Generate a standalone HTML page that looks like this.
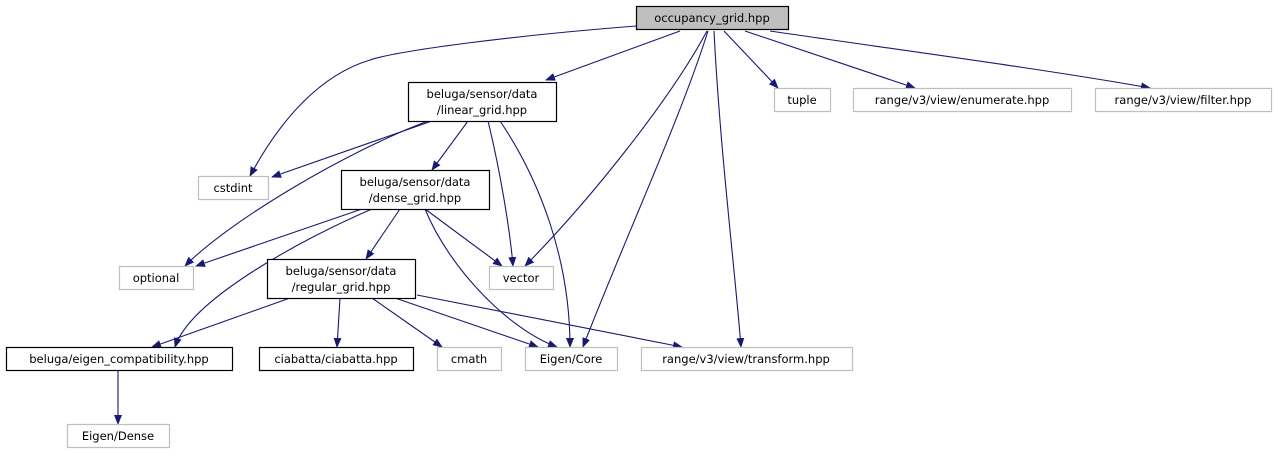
<!DOCTYPE html>
<html><head><meta charset="utf-8"><style>
html,body{margin:0;padding:0;background:#fff;}
svg{display:block;}
text{font-family:"DejaVu Sans","Liberation Sans",sans-serif;font-size:11.5px;fill:#000;text-anchor:middle;}
.e{fill:none;stroke:#191970;stroke-width:1.1;marker-end:url(#a);}
.b{fill:#fff;stroke:#000;stroke-width:1.2;}
.g{fill:#fff;stroke:#bfbfbf;stroke-width:1.2;}
</style></head><body>
<svg width="1276" height="455" viewBox="0 0 1276 455" xmlns="http://www.w3.org/2000/svg">
<defs><marker id="a" markerWidth="10" markerHeight="8" refX="9" refY="4" orient="auto" markerUnits="userSpaceOnUse"><path d="M0,0 L10,4 L0,8 Z" fill="#191970"/></marker></defs>
<!-- edges -->
<path class="e" d="M636,26 C520,35 400,50 370,60 C320,75 280,120 250,176"/>
<path class="e" d="M680,31 L546,80"/>
<path class="e" d="M707,31 C670,100 590,200 525,266"/>
<path class="e" d="M708,31 C680,120 620,250 583,347"/>
<path class="e" d="M714,31 C720,150 735,270 741,347"/>
<path class="e" d="M724,31 L778,88"/>
<path class="e" d="M745,31 L915,88"/>
<path class="e" d="M770,31 C900,50 1050,70 1150,88"/>
<path class="e" d="M432,121 L272,177"/>
<path class="e" d="M428,121 C350,150 230,220 185,266"/>
<path class="e" d="M468,121 L432,170"/>
<path class="e" d="M488,121 C500,170 510,230 513,266"/>
<path class="e" d="M500,121 C540,180 570,260 570,347"/>
<path class="e" d="M362,209 L196,266"/>
<path class="e" d="M372,209 C300,240 190,300 175,347"/>
<path class="e" d="M400,209 L366,259"/>
<path class="e" d="M425,209 L502,266"/>
<path class="e" d="M425,209 C450,270 510,330 557,347"/>
<path class="e" d="M290,298 L152,347"/>
<path class="e" d="M340,298 L337,347"/>
<path class="e" d="M372,298 L442,347"/>
<path class="e" d="M395,298 L538,347"/>
<path class="e" d="M417,295 L682,347"/>
<path class="e" d="M118,370 L118,424"/>
<!-- nodes -->
<rect x="636.5" y="6.5" width="152" height="23" fill="#bfbfbf" stroke="#000" stroke-width="1.2"/><text x="712" y="22">occupancy_grid.hpp</text>
<rect class="b" x="408.5" y="82.5" width="148" height="39"/><text x="482" y="98">beluga/sensor/data</text><text x="482" y="114">/linear_grid.hpp</text>
<rect class="g" x="198.5" y="176.5" width="70" height="23"/><text x="233" y="192">cstdint</text>
<rect class="g" x="774.5" y="88.5" width="56" height="23"/><text x="802" y="104">tuple</text>
<rect class="g" x="853.5" y="88.5" width="218" height="23"/><text x="962" y="104">range/v3/view/enumerate.hpp</text>
<rect class="g" x="1095.5" y="88.5" width="176" height="23"/><text x="1183" y="104">range/v3/view/filter.hpp</text>
<rect class="b" x="341.5" y="170.5" width="148" height="39"/><text x="415" y="186">beluga/sensor/data</text><text x="415" y="202">/dense_grid.hpp</text>
<rect class="g" x="119.5" y="266.5" width="74" height="23"/><text x="156" y="282">optional</text>
<rect class="g" x="489.5" y="266.5" width="64" height="23"/><text x="521" y="282">vector</text>
<rect class="b" x="267.5" y="259.5" width="148" height="39"/><text x="341" y="275">beluga/sensor/data</text><text x="341" y="291">/regular_grid.hpp</text>
<rect class="b" x="6.5" y="347.5" width="226" height="23"/><text x="119" y="363">beluga/eigen_compatibility.hpp</text>
<rect class="b" x="259.5" y="347.5" width="154" height="23"/><text x="336" y="363">ciabatta/ciabatta.hpp</text>
<rect class="g" x="437.5" y="347.5" width="64" height="23"/><text x="469" y="363">cmath</text>
<rect class="g" x="525.5" y="347.5" width="92" height="23"/><text x="571" y="363">Eigen/Core</text>
<rect class="g" x="641.5" y="347.5" width="211" height="23"/><text x="746" y="363">range/v3/view/transform.hpp</text>
<rect class="g" x="67.5" y="424.5" width="102" height="23"/><text x="118" y="440">Eigen/Dense</text>
</svg>
</body></html>
